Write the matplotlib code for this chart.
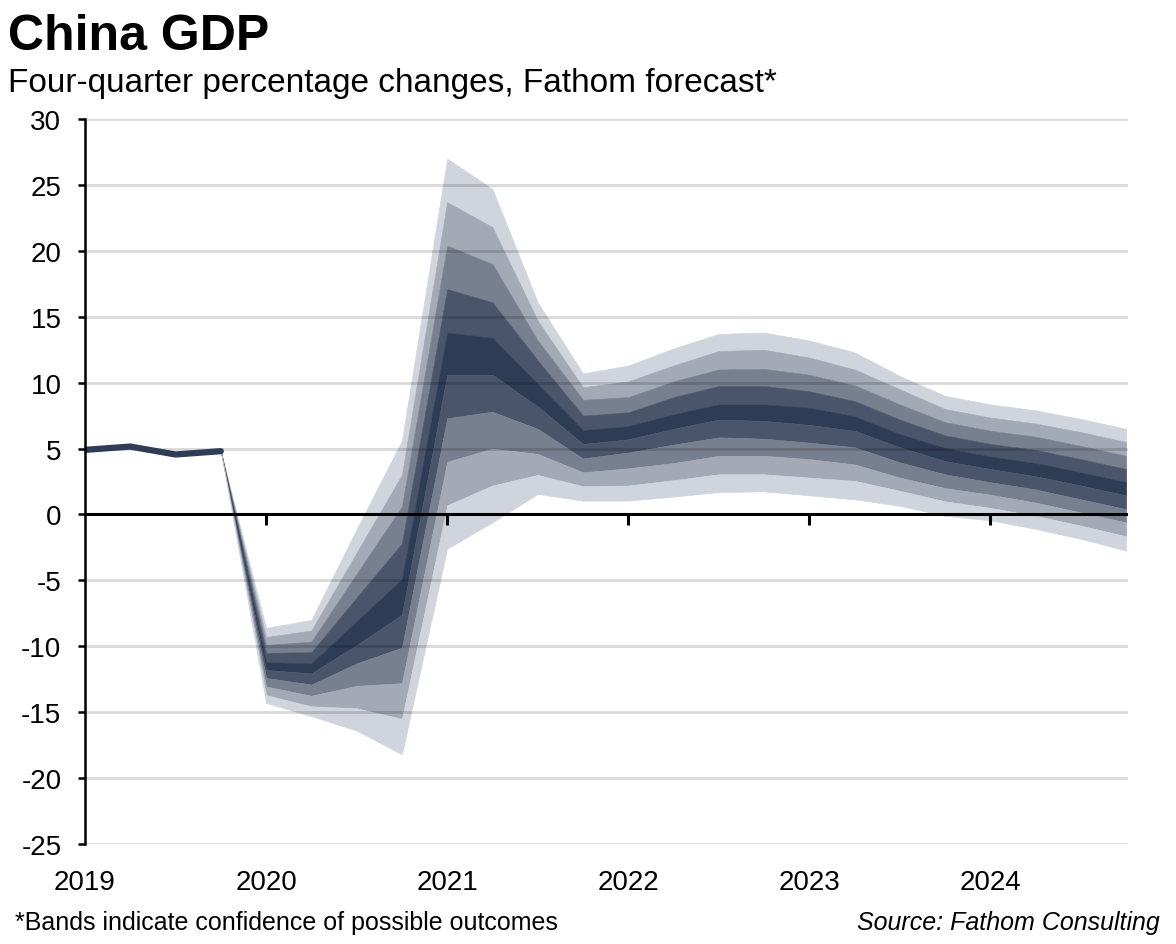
import matplotlib
matplotlib.use("Agg")
import matplotlib.pyplot as plt

plt.rcParams['font.family'] = ['Liberation Sans', 'DejaVu Sans']
plt.rcParams['axes.unicode_minus'] = False

# ---------------- data ----------------
hist_x = [2019.0, 2019.25, 2019.5, 2019.75]
hist_y = [4.9, 5.15, 4.55, 4.8]

fc_x = [2019.75, 2020.0, 2020.25, 2020.5, 2020.75, 2021.0, 2021.25, 2021.5,
        2021.75, 2022.0, 2022.25, 2022.5, 2022.75, 2023.0, 2023.25, 2023.5,
        2023.75, 2024.0, 2024.25, 2024.5, 2024.75]

# band edges, outermost upper -> outermost lower
upper_90 = [4.8, -8.6, -8.0, -1.1, 5.6, 27.0, 24.7, 16.1, 10.7, 11.3, 12.6, 13.7, 13.8, 13.2, 12.3, 10.5, 9.0, 8.35, 7.9, 7.25, 6.5]
upper_70 = [4.8, -9.3, -8.8, -2.9, 3.0, 23.7, 21.8, 14.7, 9.65, 10.1, 11.3, 12.4, 12.5, 11.9, 11.0, 9.5, 8.0, 7.35, 6.9, 6.25, 5.5]
upper_50 = [4.8, -9.9, -9.65, -4.5, 0.6, 20.4, 19.0, 13.2, 8.7, 8.9, 10.1, 11.0, 11.05, 10.6, 9.8, 8.35, 7.0, 6.35, 5.9, 5.2, 4.45]
upper_30 = [4.8, -10.5, -10.45, -6.3, -2.2, 17.1, 16.1, 11.7, 7.5, 7.75, 8.9, 9.75, 9.75, 9.35, 8.6, 7.2, 6.0, 5.35, 4.9, 4.2, 3.45]
upper_10 = [4.8, -11.2, -11.3, -8.1, -4.9, 13.8, 13.4, 9.9, 6.4, 6.7, 7.6, 8.35, 8.35, 8.1, 7.45, 6.1, 5.05, 4.4, 3.9, 3.2, 2.45]
lower_10 = [4.8, -11.8, -12.05, -9.9, -7.6, 10.6, 10.6, 8.2, 5.35, 5.7, 6.5, 7.2, 7.1, 6.8, 6.35, 5.1, 4.05, 3.45, 2.9, 2.2, 1.45]
lower_30 = [4.8, -12.4, -12.9, -11.3, -10.1, 7.3, 7.8, 6.5, 4.25, 4.7, 5.3, 5.85, 5.75, 5.45, 5.1, 3.95, 3.05, 2.45, 1.9, 1.15, 0.4]
lower_50 = [4.8, -13.05, -13.75, -13.0, -12.8, 4.0, 5.0, 4.6, 3.2, 3.5, 3.9, 4.45, 4.45, 4.2, 3.8, 2.8, 2.0, 1.5, 0.9, 0.15, -0.6]
lower_70 = [4.8, -13.7, -14.55, -14.7, -15.5, 0.7, 2.2, 3.0, 2.15, 2.2, 2.6, 3.05, 3.05, 2.8, 2.55, 1.8, 1.0, 0.5, -0.1, -0.85, -1.65]
lower_90 = [4.8, -14.3, -15.3, -16.4, -18.2, -2.6, -0.6, 1.55, 1.05, 1.05, 1.35, 1.7, 1.75, 1.45, 1.15, 0.65, -0.1, -0.45, -1.1, -1.85, -2.75]

y_ticks = [-25, -20, -15, -10, -5, 0, 5, 10, 15, 20, 25, 30]
x_years = [2019, 2020, 2021, 2022, 2023, 2024]

title = "China GDP"
subtitle = "Four-quarter percentage changes, Fathom forecast*"
footnote = "*Bands indicate confidence of possible outcomes"
source = "Source: Fathom Consulting"

# ---------------- style ----------------
c_light = '#D0D4DC'
c_light2 = '#A3A9B5'
c_mid = '#78808F'
c_dark = '#4A556B'
c_darkest = '#2E3C55'
band_colors = [c_light, c_light2, c_mid, c_dark, c_darkest,
               c_dark, c_mid, c_light2, c_light]

fig = plt.figure(figsize=(11.76, 9.45), dpi=100)
ax = fig.add_axes([85 / 1176, 1 - 845 / 945, (1128 - 85) / 1176, (845 - 120) / 945])

edges = [upper_90, upper_70, upper_50, upper_30, upper_10,
         lower_10, lower_30, lower_50, lower_70, lower_90]
for i in range(len(edges) - 1):
    ax.fill_between(fc_x, edges[i], edges[i + 1], facecolor=band_colors[i],
                    edgecolor=band_colors[i], linewidth=0.4, zorder=2)

# gridlines (drawn over the bands, faint)
for t in y_ticks:
    if t != 0:
        ax.axhline(t, color='black', alpha=0.15, lw=2, zorder=3)

ax.axhline(0, color='black', lw=2.2, zorder=4)
ax.plot(x_years[1:], [0] * (len(x_years) - 1), ls='none', marker=3,
        markersize=8, markeredgewidth=2.2, color='black', zorder=4, clip_on=False)

ax.plot(hist_x, hist_y, color=c_darkest, lw=4.5, solid_capstyle='round',
        solid_joinstyle='round', zorder=5)

ax.set_xlim(2019.0, 2024.76)
ax.set_ylim(-25, 30)
ax.set_yticks(y_ticks)
ax.set_yticklabels([str(t) for t in y_ticks], fontsize=20)
ax.set_xticks(x_years)
ax.set_xticklabels([str(y) for y in x_years], fontsize=20)

for s in ['top', 'right', 'bottom']:
    ax.spines[s].set_visible(False)
ax.spines['left'].set_linewidth(1.8)
ax.spines['left'].set_zorder(6)
ax.tick_params(axis='y', direction='out', length=5, width=1.8, pad=12)
ax.tick_params(axis='x', length=0, pad=18)

fig.text(8 / 1176, 1 - 50 / 945, title, fontsize=36, fontweight='bold',
         ha='left', va='baseline')
fig.text(8 / 1176, 1 - 92 / 945, subtitle, fontsize=24, ha='left', va='baseline')
fig.text(15 / 1176, 1 - 930 / 945, footnote, fontsize=18, ha='left', va='baseline')
fig.text(1160 / 1176, 1 - 930 / 945, source, fontsize=18, style='italic',
         ha='right', va='baseline')

fig.savefig('out.png', dpi=100)
